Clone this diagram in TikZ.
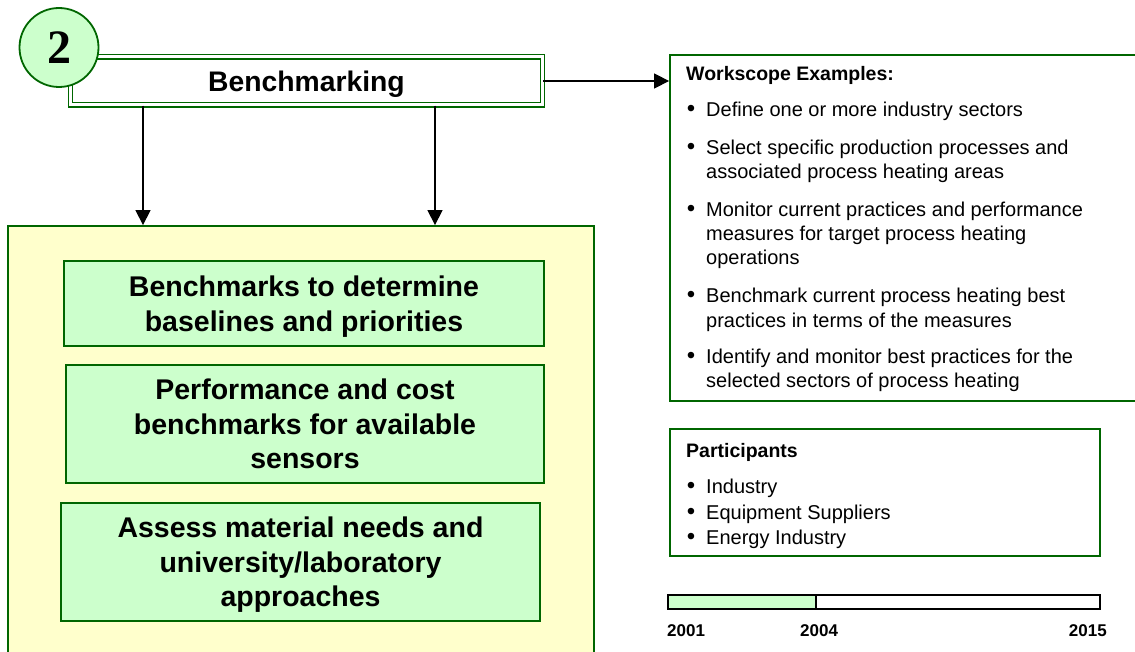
\documentclass[tikz,border=0pt]{standalone}
\usepackage{fontspec}
\setmainfont{Liberation Sans}
\newfontfamily\serifbold{Liberation Serif}
\usetikzlibrary{arrows.meta}
\definecolor{dgreen}{HTML}{006600}
\definecolor{lgreen}{HTML}{CCFFCC}
\definecolor{lyellow}{HTML}{FFFFCC}
\begin{document}
\begin{tikzpicture}[x=1pt,y=-1pt,
  gbox/.style={draw=dgreen, line width=1.8pt, fill=lgreen, align=center,
    font=\fontsize{28.5}{34.5}\selectfont\bfseries, inner sep=0pt, text depth=0pt},
  frame/.style={draw=dgreen, line width=1.8pt, inner sep=0pt},
  arr/.style={-{Triangle[length=15pt,width=15pt]}, line width=1.3pt},
  txt/.style={anchor=base west, inner sep=0pt, font=\fontsize{20}{24}\selectfont},
  hd/.style={txt, font=\fontsize{19.5}{24}\selectfont\bfseries},
  bul/.style={anchor=base, inner sep=0pt, font=\fontsize{24}{24}\selectfont},
  yr/.style={anchor=base west, inner sep=0pt, font=\fontsize{17}{20}\selectfont\bfseries}]
\useasboundingbox (0,0) rectangle (1135,652);
\clip (0,0) rectangle (1135,652);

% header box with double border
\node[draw=dgreen, double=white, double distance=3pt, line width=1.4pt,
  minimum width=472pt, minimum height=48pt, inner sep=0pt, text depth=0pt,
  font=\fontsize{28.3}{34}\selectfont\bfseries] (bench) at (306.5,81) {Benchmarking};
\node[circle, draw=dgreen, line width=1.8pt, fill=lgreen, minimum size=79pt, inner sep=0pt,
  font=\fontsize{48}{50}\serifbold\bfseries] (num) at (59,47.5) {2};

% large yellow container
\node[frame, fill=lyellow, minimum width=586pt, minimum height=430pt] (yellow) at (301,441) {};

\node[gbox, minimum width=480pt, minimum height=85pt] (b1) at (304,303.5)
  {Benchmarks to determine\\baselines and priorities};
\node[gbox, minimum width=478pt, minimum height=118pt] (b2) at (305,424)
  {Performance and cost\\benchmarks for available\\sensors};
\node[gbox, minimum width=479pt, minimum height=118pt] (b3) at (300.5,562)
  {Assess material needs and\\university/laboratory\\approaches};

% arrows down
\coordinate (d1) at (143,226);
\coordinate (d2) at (435,226);
\draw[arr] (bench.south -| d1) -- (yellow.north -| d1);
\draw[arr] (bench.south -| d2) -- (yellow.north -| d2);

% workscope box
\node[frame, minimum width=480pt, minimum height=346pt] (ws) at (910,228) {};
\draw[arr] (bench.east) -- (ws.west |- bench.east);

\node[hd] (wh) at (686,81) {Workscope Examples:};
\node[bul] (wb1) at (691,117) {•};
\node[txt] (w1) at (706,117) {Define one or more industry sectors};
\node[bul] (wb2) at (691,155) {•};
\node[txt] (w2a) at (706,155) {Select specific production processes and};
\node[txt] (w2b) at (706,179) {associated process heating areas};
\node[bul] (wb3) at (691,217) {•};
\node[txt] (w3a) at (706,217) {Monitor current practices and performance};
\node[txt] (w3b) at (706,241) {measures for target process heating};
\node[txt] (w3c) at (706,265) {operations};
\node[bul] (wb4) at (691,303) {•};
\node[txt] (w4a) at (706,303) {Benchmark current process heating best};
\node[txt] (w4b) at (706,327) {practices in terms of the measures};
\node[bul] (wb5) at (691,363) {•};
\node[txt] (w5a) at (706,363) {Identify and monitor best practices for the};
\node[txt] (w5b) at (706,387) {selected sectors of process heating};

% participants
\node[frame, minimum width=430pt, minimum height=127pt] (pp) at (885,492.5) {};
\node[hd] (ph) at (686,457) {Participants};
\node[bul] (pb1) at (691,493) {•};
\node[txt] (p1) at (706,493) {Industry};
\node[bul] (pb2) at (691,519) {•};
\node[txt] (p2) at (706,519) {Equipment Suppliers};
\node[bul] (pb3) at (691,544) {•};
\node[txt] (p3) at (706,544) {Energy Industry};

% timeline
\node[draw=black, line width=1.5pt, minimum width=432pt, minimum height=14pt, inner sep=0pt] (bar) at (884,602) {};
\node[draw=black, fill=lgreen, line width=1.5pt, minimum width=148pt, minimum height=14pt, inner sep=0pt] (done) at (742,602) {};
\node[yr] (y1) at (667,636) {2001};
\node[yr] (y2) at (800,636) {2004};
\node[yr, anchor=base east] (y3) at (1107,636) {2015};
\end{tikzpicture}
\end{document}
